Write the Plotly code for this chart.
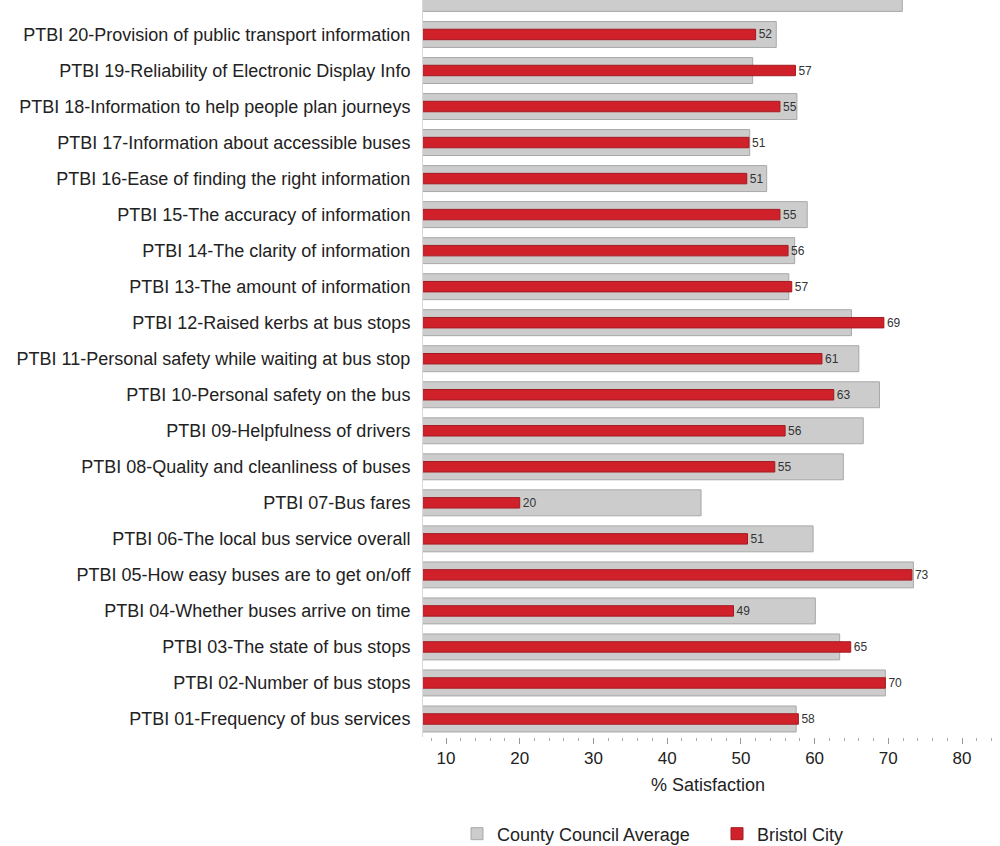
import plotly.graph_objects as go

# ---- data (bottom to top) ----
categories = [
    "PTBI 01-Frequency of bus services",
    "PTBI 02-Number of bus stops",
    "PTBI 03-The state of bus stops",
    "PTBI 04-Whether buses arrive on time",
    "PTBI 05-How easy buses are to get on/off",
    "PTBI 06-The local bus service overall",
    "PTBI 07-Bus fares",
    "PTBI 08-Quality and cleanliness of buses",
    "PTBI 09-Helpfulness of drivers",
    "PTBI 10-Personal safety on the bus",
    "PTBI 11-Personal safety while waiting at bus stop",
    "PTBI 12-Raised kerbs at bus stops",
    "PTBI 13-The amount of information",
    "PTBI 14-The clarity of information",
    "PTBI 15-The accuracy of information",
    "PTBI 16-Ease of finding the right information",
    "PTBI 17-Information about accessible buses",
    "PTBI 18-Information to help people plan journeys",
    "PTBI 19-Reliability of Electronic Display Info",
    "PTBI 20-Provision of public transport information",
    "(row above, clipped)",
]

county_council_average = [
    57.5, 69.6, 63.4, 60.1, 73.4, 59.8, 44.6, 63.9, 66.6, 68.8,
    66.0, 65.0, 56.5, 57.3, 59.0, 53.5, 51.2, 57.6, 51.6, 54.8,
    71.9,
]

bristol_city = [
    57.8, 69.6, 64.9, 49.0, 73.2, 50.9, 20.0, 54.6, 56.0, 62.6,
    61.0, 69.4, 56.9, 56.4, 55.3, 50.8, 51.1, 55.3, 57.4, 52.0,
    None,
]

bristol_labels = [
    "58", "70", "65", "49", "73", "51", "20", "55", "56", "63",
    "61", "69", "57", "56", "55", "51", "51", "55", "57", "52",
    "",
]

x_tick_values = [10, 20, 30, 40, 50, 60, 70, 80]

FONT = "Liberation Sans, Arial, sans-serif"

fig = go.Figure()

fig.add_trace(go.Bar(
    y=categories,
    x=county_council_average,
    orientation="h",
    name="County Council Average",
    width=0.72,
    marker=dict(color="#cccccc", line=dict(color="#a8a8a8", width=1)),
))

fig.add_trace(go.Bar(
    y=categories,
    x=bristol_city,
    orientation="h",
    name="Bristol City",
    width=0.29,
    marker=dict(color="#d0212b", line=dict(color="#a21b22", width=1)),
    text=bristol_labels,
    textposition="outside",
    constraintext="none",
    textfont=dict(family=FONT, size=12, color="#333333"),
))

fig.update_layout(
    width=1000,
    height=846,
    barmode="overlay",
    plot_bgcolor="white",
    paper_bgcolor="white",
    margin=dict(l=423, r=7, t=0, b=109, pad=0),
    font=dict(family=FONT, size=18, color="#222222"),
    showlegend=True,
    legend=dict(
        orientation="h",
        xref="container",
        yref="container",
        x=0.457,
        xanchor="left",
        y=0.0142,
        yanchor="middle",
        entrywidth=215,
        font=dict(family=FONT, size=18, color="#222222"),
        traceorder="normal",
    ),
    xaxis=dict(
        range=[6.88, 84.2],
        tickmode="array",
        tickvals=x_tick_values,
        ticks="outside",
        ticklen=6,
        tickcolor="#999999",
        tickwidth=1,
        tickfont=dict(family=FONT, size=17, color="#222222"),
        minor=dict(dtick=2, tick0=0, ticks="outside", ticklen=3,
                   tickcolor="#aaaaaa", showgrid=False),
        showgrid=False,
        zeroline=False,
        showline=False,
        title=dict(text="% Satisfaction", standoff=10,
                   font=dict(family=FONT, size=18, color="#222222")),
        automargin=False,
    ),
    yaxis=dict(
        type="category",
        categoryorder="array",
        categoryarray=categories,
        range=[-0.5, 19.957],
        showline=True,
        linecolor="#d9d9d9",
        linewidth=1,
        ticks="",
        ticklabelstandoff=8,
        tickfont=dict(family=FONT, size=18, color="#222222"),
        showgrid=False,
        zeroline=False,
        automargin=False,
    ),
)

fig.write_html(
    "out.html",
    config={"displayModeBar": False},
    post_script="document.body.style.margin='0';",
)
